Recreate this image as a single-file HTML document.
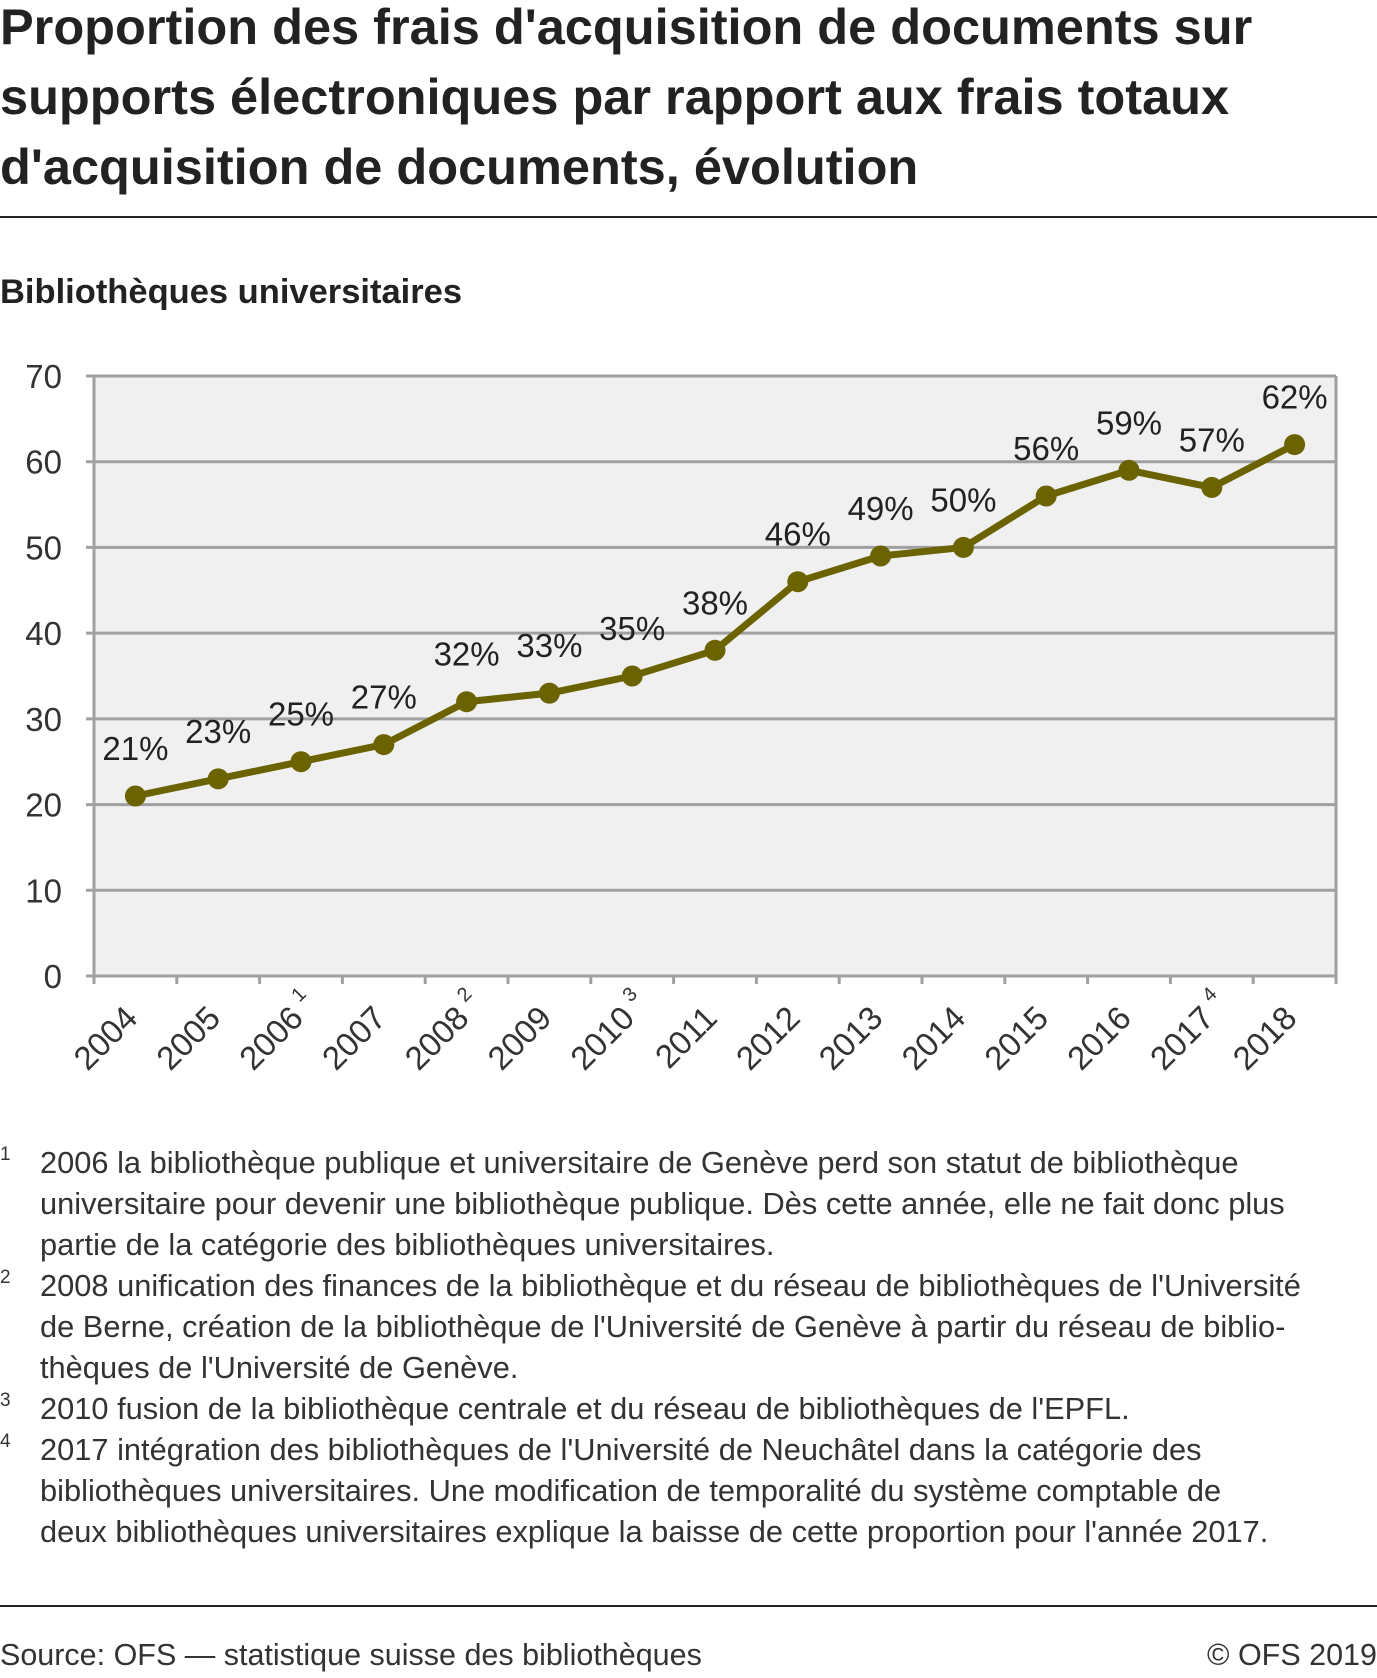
<!DOCTYPE html>
<html><head><meta charset="utf-8"><style>
html,body{margin:0;padding:0;background:#fff;}
body{width:1377px;height:1673px;overflow:hidden;font-family:"Liberation Sans",sans-serif;color:#222;}
</style></head><body>
<svg width="1377" height="1673" xmlns="http://www.w3.org/2000/svg" font-family="Liberation Sans, sans-serif">
<g font-size="50.5" font-weight="bold" fill="#222">
<text x="0" y="44">Proportion des frais d'acquisition de documents sur</text>
<text x="0" y="114">supports électroniques par rapport aux frais totaux</text>
<text x="0" y="184">d'acquisition de documents, évolution</text>
</g>
<line x1="0" y1="217" x2="1377" y2="217" stroke="#222" stroke-width="2"/>
<text x="0" y="303" font-size="34.5" font-weight="bold" fill="#222">Bibliothèques universitaires</text>
<g id="plot"></g>
<g font-size="30.8" fill="#333">
<text x="0" y="1160" font-size="19">1</text>
<text x="40" y="1173">2006 la bibliothèque publique et universitaire de Genève perd son statut de bibliothèque</text>
<text x="40" y="1214">universitaire pour devenir une bibliothèque publique. Dès cette année, elle ne fait donc plus</text>
<text x="40" y="1255">partie de la catégorie des bibliothèques universitaires.</text>
<text x="0" y="1283" font-size="19">2</text>
<text x="40" y="1296">2008 unification des finances de la bibliothèque et du réseau de bibliothèques de l'Université</text>
<text x="40" y="1337">de Berne, création de la bibliothèque de l'Université de Genève à partir du réseau de biblio-</text>
<text x="40" y="1378">thèques de l'Université de Genève.</text>
<text x="0" y="1406" font-size="19">3</text>
<text x="40" y="1419">2010 fusion de la bibliothèque centrale et du réseau de bibliothèques de l'EPFL.</text>
<text x="0" y="1447" font-size="19">4</text>
<text x="40" y="1460">2017 intégration des bibliothèques de l'Université de Neuchâtel dans la catégorie des</text>
<text x="40" y="1501">bibliothèques universitaires. Une modification de temporalité du système comptable de</text>
<text x="40" y="1542">deux bibliothèques universitaires explique la baisse de cette proportion pour l'année 2017.</text>
</g>
<line x1="0" y1="1606" x2="1377" y2="1606" stroke="#222" stroke-width="2"/>
<text x="0" y="1665" font-size="30.5" fill="#333">Source: OFS — statistique suisse des bibliothèques</text>
<text x="1377" y="1665" font-size="30.5" fill="#333" text-anchor="end">© OFS 2019</text>
</svg>
<script>
const years = ["2004","2005","2006","2007","2008","2009","2010","2011","2012","2013","2014","2015","2016","2017","2018"];
const notes = ["","","1","","2","","3","","","","","","","4",""];
const values = [21,23,25,27,32,33,35,38,46,49,50,56,59,57,62];
const yTicks = [0,10,20,30,40,50,60,70];
const NS="http://www.w3.org/2000/svg";
const g=document.getElementById('plot');
const L=94,R=1336,T=376,B=976,yMax=70;
const bw=(R-L)/years.length;
const xs=i=>L+bw*(i+0.5);
const ys=v=>B-(v/yMax)*(B-T);
function mk(t,a){const e=document.createElementNS(NS,t);for(const k in a)e.setAttribute(k,a[k]);g.appendChild(e);return e;}
let e=mk('rect',{x:L,y:T,width:R-L,height:B-T,fill:'#f0f0f0'});


yTicks.forEach(t=>{
  let l=mk('line',{x1:L-8,x2:R,y1:ys(t),y2:ys(t),stroke:'#a0a0a0','stroke-width':3});
  
  
  let tx=mk('text',{x:62,y:ys(t)+12,'font-size':33,'text-anchor':'end',fill:'#333'});
  tx.textContent=t;
  
  
});
e=mk('line',{x1:L,x2:L,y1:T,y2:B,stroke:'#a0a0a0','stroke-width':3});


e=mk('line',{x1:R,x2:R,y1:T,y2:B+8,stroke:'#a0a0a0','stroke-width':3});


years.forEach((y,i)=>{
  let tk=mk('line',{x1:L+bw*i,x2:L+bw*i,y1:B,y2:B+8,stroke:'#a0a0a0','stroke-width':3});
  
  
  const ax=xs(i)+4, ay=1020;
  let tx=mk('text',{x:ax,y:ay,'font-size':33,'text-anchor':'end',fill:'#333',transform:`rotate(-45 ${ax} ${ay})`});
  tx.textContent=y;
  
  
  if(notes[i]){
    let s=mk('text',{x:ax+8,y:ay-16,'font-size':20,fill:'#333',transform:`rotate(-45 ${ax} ${ay})`});
    s.textContent=notes[i];
    
    
  }
});
let pts=values.map((v,i)=>xs(i)+','+ys(v)).join(' ');
e=mk('polyline',{points:pts,fill:'none',stroke:'#6b6200','stroke-width':7,'stroke-linejoin':'round'});


values.forEach((v,i)=>{
  let c=mk('circle',{cx:xs(i),cy:ys(v),r:10.5,fill:'#6b6200'});
  
  
  let t=mk('text',{x:xs(i),y:ys(v)-36,'font-size':33,'text-anchor':'middle',fill:'#222'});
  t.textContent=v+'%';
  
  
});
</script>
</body></html>
